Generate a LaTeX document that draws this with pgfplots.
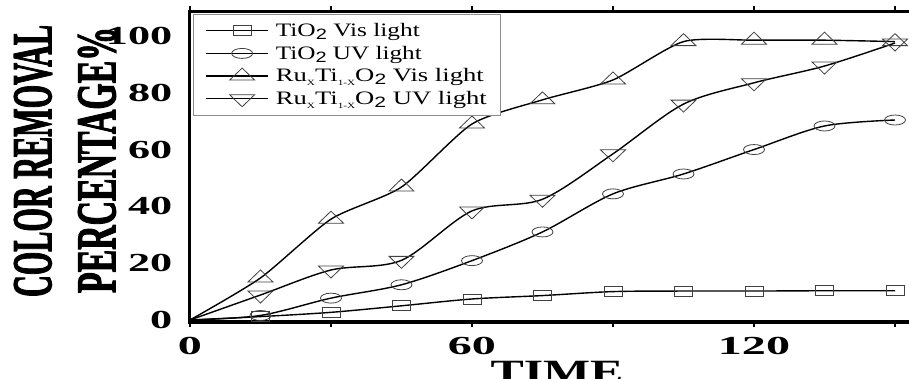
\documentclass[border=0pt]{standalone}
\usepackage{pgfplots}
\pgfplotsset{compat=1.18}
\usepackage{fontspec}
\setmainfont{Liberation Serif}
\setsansfont{Liberation Sans}
\newfontfamily\heavyfont[BoldFeatures={FakeBold=2.5}]{Liberation Serif}
\usepackage{graphicx}

\pgfplotstableread{
x s c u d
0 0 0 0 0
15 1.2 1.6 14.8 8.8
30 2.7 7.7 35.5 17.6
45 5.0 12.4 46.8 21.0
60 7.4 20.9 69.0 38.4
75 8.6 31.0 77.5 42.5
90 10.0 44.4 84.5 58.5
105 10.2 51.4 98.0 76.0
120 10.2 60.0 98.5 83.5
135 10.3 68.3 98.5 89.4
150 10.3 70.4 98.0 97.5
}\datatable

\newcommand{\xl}[1]{\scalebox{1.85}[1]{#1}}
\newcommand{\yl}[1]{\scalebox{1.7}[1]{#1}}
\newcommand{\lgd}[2]{\resizebox{#1}{\height}{\fontsize{19}{21}\selectfont #2}}
\newcommand{\tsub}[1]{\raisebox{-0.45ex}{\fontsize{8}{8}\selectfont #1}}
\newcommand{\two}{\raisebox{-0.35ex}{\fontsize{15}{15}\selectfont\sffamily 2}}

\begin{document}
\begin{tikzpicture}
\begin{axis}[
  scale only axis,
  width=733.7pt, height=310.5pt,
  xmin=-0.1, xmax=156, ymin=-0.7, ymax=108.6,
  axis line style={line width=3.5pt, black},
  xtick={0,30,60,90,120,150},
  xticklabels={\xl{0},,\xl{60},,\xl{120},},
  ytick={0,20,40,60,80,100},
  yticklabels={\yl{0},\yl{20},\yl{40},\yl{60},\yl{80},\yl{100}},
  tick label style={font=\fontsize{26}{26}\selectfont\bfseries},
  xticklabel style={anchor=north, inner sep=0pt, yshift=-10pt},
  yticklabel style={anchor=east, inner sep=0pt, xshift=-12pt},
  tick align=outside,
  major tick length=5pt,
  xtick style={line width=2.5pt, black},
  ytick style={draw=none},
  legend cell align=left,
  legend style={at={(axis description cs:0.0048,0.992)}, anchor=north west,
    draw=black!45, line width=0.8pt, fill=white,
    inner xsep=12pt, inner ysep=7pt, row sep=4pt, column sep=5pt},
  legend image code/.code={\path (0pt,0pt) -- (62pt,0pt);
    \draw[mark repeat=2,mark phase=2] plot coordinates {(10pt,0pt)(36pt,0pt)(62pt,0pt)};},
]
\addplot[black, line width=1.4pt, smooth, mark=square, mark size=5pt, mark repeat=1, mark phase=2,
  mark options={xscale=1.8, line width=0.8pt, draw=black!75, solid, fill=none}] table[x=x,y=s] {\datatable};
\addlegendentry{\lgd{144pt}{TiO\two{} Vis light}}
\addplot[black, line width=1.4pt, smooth, mark=o, mark size=5pt, mark repeat=1, mark phase=2,
  mark options={xscale=2.1, line width=0.8pt, draw=black!75, solid, fill=none}] table[x=x,y=c] {\datatable};
\addlegendentry{\lgd{146pt}{TiO\two{} UV light}}
\addplot[black, line width=1.4pt, smooth, tension=0.4, mark=triangle, mark size=8pt, mark repeat=1, mark phase=2,
  mark options={xscale=1.8, line width=0.8pt, draw=black!75, solid, fill=none}] table[x=x,y=u] {\datatable};
\addlegendentry{\lgd{208pt}{Ru\tsub{X}Ti\tsub{1-X}O\two{} Vis light}}
\addplot[black, line width=1.4pt, smooth, mark=triangle, mark size=8pt, mark repeat=1, mark phase=2,
  mark options={rotate=180, xscale=1.8, line width=0.8pt, draw=black!75, solid, fill=none}] table[x=x,y=d] {\datatable};
\addlegendentry{\lgd{211pt}{Ru\tsub{X}Ti\tsub{1-X}O\two{} UV light}}
\end{axis}
\node[rotate=90, inner sep=0pt, font=\fontsize{56}{56}\selectfont\heavyfont\bfseries] at (-156.5pt,161pt) {\resizebox{272pt}{\height}{COLOR REMOVAL}};
\node[rotate=90, inner sep=0pt, font=\fontsize{56}{56}\selectfont\heavyfont\bfseries] at (-92.5pt,162pt) {\resizebox{266pt}{\height}{PERCENTAGE\%}};
\node[anchor=north, inner sep=0pt, font=\fontsize{34}{34}\selectfont\bfseries] at (367.5pt,-39pt) {\resizebox{133pt}{\height}{TIME}};
\pgfresetboundingbox
\useasboundingbox (-189.5pt,-57pt) rectangle (719.5pt,322pt);
\end{tikzpicture}
\end{document}
